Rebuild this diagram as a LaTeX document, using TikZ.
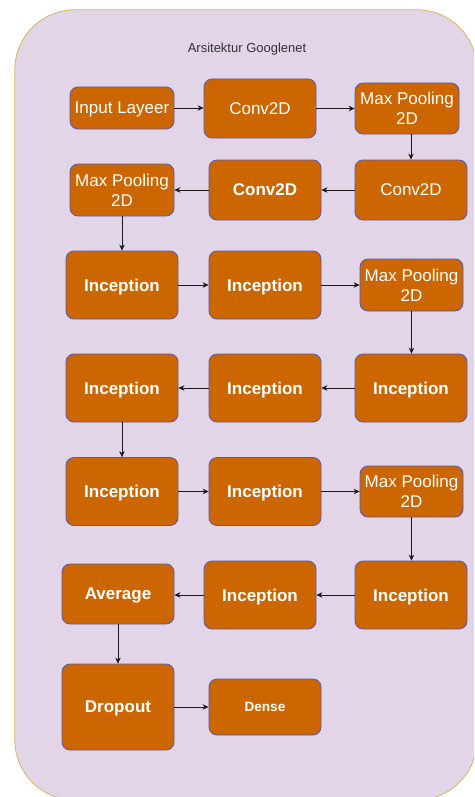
\documentclass[tikz,border=0pt]{standalone}
\usepackage{fontspec}
\setmainfont{Liberation Sans}
\usetikzlibrary{arrows.meta}
\definecolor{bgfill}{HTML}{E1D5E7}
\definecolor{bgline}{HTML}{D6B656}
\definecolor{boxfill}{HTML}{CC6600}
\definecolor{boxline}{HTML}{5A58B0}
\definecolor{titlecol}{HTML}{333333}
\tikzset{
  blk/.style={draw=boxline, line width=0.8pt, fill=boxfill, rounded corners=8pt,
    text=white, align=center, inner sep=0pt, text depth=0pt,
    font=\fontsize{17}{20}\selectfont},
  bblk/.style={blk, font=\fontsize{17}{20}\selectfont\bfseries},
  conn/.style={draw=black!90, line width=0.8pt, -{Stealth[length=6pt,width=5.5pt]}}
}
\begin{document}
\begin{tikzpicture}[x=1pt,y=-1pt]
\useasboundingbox (0,0) rectangle (474,797);
\begin{scope}
\clip (0,0) rectangle (474,797);
\draw[fill=bgfill, draw=bgline, line width=0.8pt, rounded corners=60pt] (14.8,9.8) rectangle (477,800);
\end{scope}
\node[text=titlecol, font=\fontsize{13}{15}\selectfont, text depth=0pt] (title) at (247,48) {Arsitektur Googlenet};

\node[blk, minimum width=104pt, minimum height=42pt] (n1) at (122,108) {Input Layeer};
\node[blk, minimum width=112pt, minimum height=59pt] (n2) at (260,108.5) {Conv2D};
\node[blk, minimum width=104pt, minimum height=51pt] (n3) at (407,108.5) {Max Pooling\\2D};
\node[blk, minimum width=112pt, minimum height=60pt] (n4) at (411,190) {Conv2D};
\node[bblk, minimum width=112pt, minimum height=60pt] (n5) at (265,190) {Conv2D};
\node[blk, minimum width=104pt, minimum height=52pt] (n6) at (122,190) {Max Pooling\\2D};

\node[bblk, minimum width=112pt, minimum height=68pt] (n7) at (122,285) {Inception};
\node[bblk, minimum width=112pt, minimum height=68pt] (n8) at (265,285) {Inception};
\node[blk, minimum width=103pt, minimum height=52pt] (n9) at (411.5,285) {Max Pooling\\2D};

\node[bblk, minimum width=112pt, minimum height=68pt] (n10) at (411,388) {Inception};
\node[bblk, minimum width=112pt, minimum height=68pt] (n11) at (265,388) {Inception};
\node[bblk, minimum width=112pt, minimum height=68pt] (n12) at (122,388) {Inception};

\node[bblk, minimum width=112pt, minimum height=68pt] (n13) at (122,491.5) {Inception};
\node[bblk, minimum width=112pt, minimum height=68pt] (n14) at (265,491.5) {Inception};
\node[blk, minimum width=103pt, minimum height=51pt] (n15) at (411.5,491.5) {Max Pooling\\2D};

\node[bblk, minimum width=112pt, minimum height=68pt] (n16) at (411,595) {Inception};
\node[bblk, minimum width=112pt, minimum height=68pt] (n17) at (260,595) {Inception};
\node[bblk, minimum width=112pt, minimum height=60pt] (n18) at (118,594) {Average};

\node[bblk, minimum width=112pt, minimum height=86pt] (n19) at (118,707) {Dropout};
\node[blk, font=\fontsize{13.5}{16}\selectfont\bfseries, minimum width=112pt, minimum height=56pt] (n20) at (265,707) {Dense};

\draw[conn] (n1.east) -- (n1.east -| n2.west);
\draw[conn] (n2.east) -- (n2.east -| n3.west);
\draw[conn] (n3.south -| n4.north) -- (n4.north);
\draw[conn] (n4.west) -- (n4.west -| n5.east);
\draw[conn] (n5.west) -- (n5.west -| n6.east);
\draw[conn] (n6.south) -- (n7.north);
\draw[conn] (n7.east) -- (n7.east -| n8.west);
\draw[conn] (n8.east) -- (n8.east -| n9.west);
\draw[conn] (n9.south) -- (n9.south |- n10.north);
\draw[conn] (n10.west) -- (n10.west -| n11.east);
\draw[conn] (n11.west) -- (n11.west -| n12.east);
\draw[conn] (n12.south) -- (n13.north);
\draw[conn] (n13.east) -- (n13.east -| n14.west);
\draw[conn] (n14.east) -- (n14.east -| n15.west);
\draw[conn] (n15.south) -- (n15.south |- n16.north);
\draw[conn] (n16.west) -- (n16.west -| n17.east);
\draw[conn] (n17.west) -- (n17.west -| n18.east);
\draw[conn] (n18.south) -- (n19.north);
\draw[conn] (n19.east) -- (n19.east -| n20.west);
\end{tikzpicture}
\end{document}
